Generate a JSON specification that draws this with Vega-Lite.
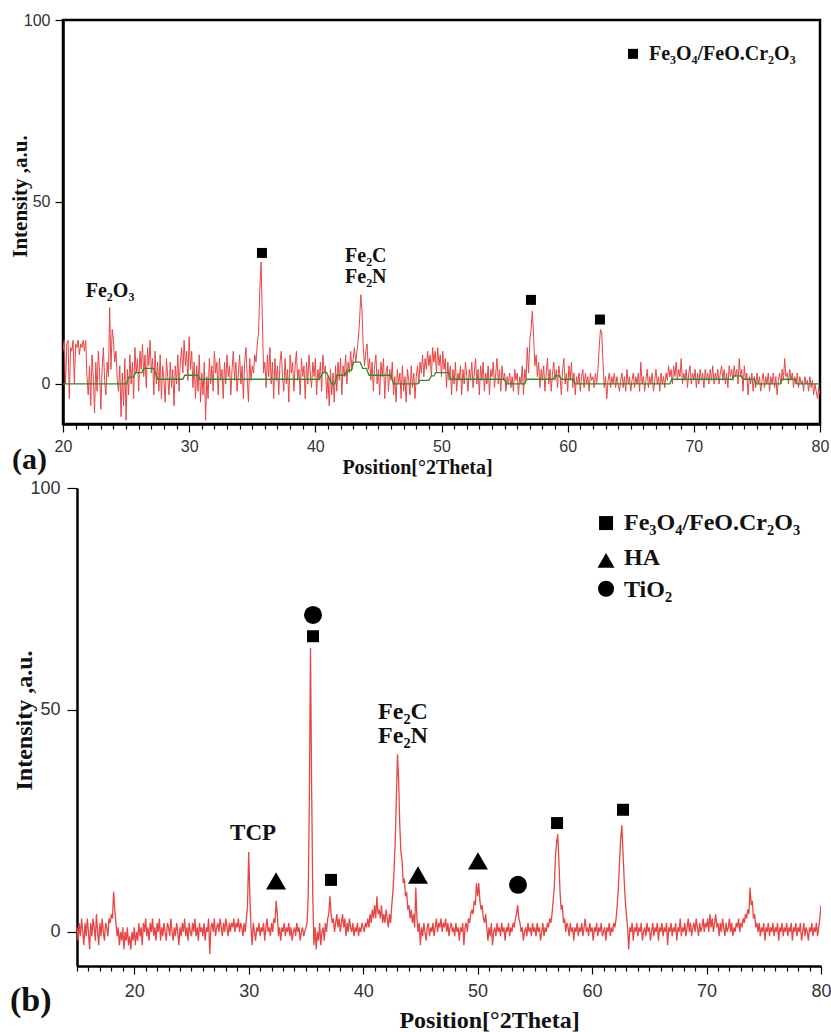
{
"$schema": "https://vega.github.io/schema/vega-lite/v6.json",
"background": "white",
"padding": {"left": 7, "top": 10, "right": 5, "bottom": 2},
"spacing": 0,
"config": {"font": "Liberation Sans"},
"datasets": {
"a": [
{"x":20.0,"y":9},{"x":20.1,"y":12},{"x":20.2,"y":0},{"x":20.3,"y":11},{"x":20.4,"y":12},{"x":20.5,"y":-4},{"x":20.6,"y":10},{"x":20.7,"y":9},{"x":20.8,"y":12},{"x":20.9,"y":0},
{"x":21.0,"y":11},{"x":21.1,"y":10},{"x":21.2,"y":12},{"x":21.3,"y":8},{"x":21.4,"y":11},{"x":21.5,"y":10},{"x":21.6,"y":12},{"x":21.7,"y":9},{"x":21.8,"y":12},{"x":21.9,"y":2},
{"x":22.0,"y":-3},{"x":22.1,"y":5},{"x":22.2,"y":-6},{"x":22.3,"y":8},{"x":22.4,"y":2},{"x":22.5,"y":-8},{"x":22.6,"y":6},{"x":22.7,"y":-2},{"x":22.8,"y":9},{"x":22.9,"y":3},
{"x":23.0,"y":-7},{"x":23.1,"y":4},{"x":23.2,"y":10},{"x":23.3,"y":1},{"x":23.4,"y":-3},{"x":23.5,"y":6},{"x":23.6,"y":2},{"x":23.7,"y":21},{"x":23.8,"y":4},{"x":23.9,"y":15},
{"x":24.0,"y":12},{"x":24.1,"y":6},{"x":24.2,"y":9},{"x":24.3,"y":1},{"x":24.4,"y":-2},{"x":24.5,"y":5},{"x":24.6,"y":-9},{"x":24.7,"y":3},{"x":24.8,"y":-6},{"x":24.9,"y":7},
{"x":25.0,"y":-10},{"x":25.1,"y":4},{"x":25.2,"y":-3},{"x":25.3,"y":8},{"x":25.4,"y":0},{"x":25.5,"y":6},{"x":25.6,"y":-4},{"x":25.7,"y":10},{"x":25.8,"y":3},{"x":25.9,"y":7},
{"x":26.0,"y":-2},{"x":26.1,"y":9},{"x":26.2,"y":4},{"x":26.3,"y":11},{"x":26.4,"y":2},{"x":26.5,"y":8},{"x":26.6,"y":-1},{"x":26.7,"y":10},{"x":26.8,"y":5},{"x":26.9,"y":12},
{"x":27.0,"y":3},{"x":27.1,"y":7},{"x":27.2,"y":-3},{"x":27.3,"y":9},{"x":27.4,"y":0},{"x":27.5,"y":6},{"x":27.6,"y":-2},{"x":27.7,"y":8},{"x":27.8,"y":-4},{"x":27.9,"y":5},
{"x":28.0,"y":1},{"x":28.1,"y":-5},{"x":28.2,"y":7},{"x":28.3,"y":2},{"x":28.4,"y":-3},{"x":28.5,"y":6},{"x":28.6,"y":-1},{"x":28.7,"y":4},{"x":28.8,"y":-6},{"x":28.9,"y":5},
{"x":29.0,"y":0},{"x":29.1,"y":8},{"x":29.2,"y":-2},{"x":29.3,"y":6},{"x":29.4,"y":10},{"x":29.5,"y":3},{"x":29.6,"y":12},{"x":29.7,"y":5},{"x":29.8,"y":9},{"x":29.9,"y":1},
{"x":30.0,"y":13},{"x":30.1,"y":4},{"x":30.2,"y":9},{"x":30.3,"y":-1},{"x":30.4,"y":6},{"x":30.5,"y":-4},{"x":30.6,"y":5},{"x":30.7,"y":-2},{"x":30.8,"y":8},{"x":30.9,"y":-5},
{"x":31.0,"y":3},{"x":31.1,"y":-3},{"x":31.2,"y":6},{"x":31.3,"y":-10},{"x":31.4,"y":2},{"x":31.5,"y":-4},{"x":31.6,"y":7},{"x":31.7,"y":0},{"x":31.8,"y":5},{"x":31.9,"y":-2},
{"x":32.0,"y":9},{"x":32.1,"y":3},{"x":32.2,"y":6},{"x":32.3,"y":-3},{"x":32.4,"y":7},{"x":32.5,"y":1},{"x":32.6,"y":4},{"x":32.7,"y":-4},{"x":32.8,"y":6},{"x":32.9,"y":0},
{"x":33.0,"y":8},{"x":33.1,"y":2},{"x":33.2,"y":5},{"x":33.3,"y":-3},{"x":33.4,"y":4},{"x":33.5,"y":9},{"x":33.6,"y":1},{"x":33.7,"y":6},{"x":33.8,"y":-2},{"x":33.9,"y":3},
{"x":34.0,"y":8},{"x":34.1,"y":0},{"x":34.2,"y":5},{"x":34.3,"y":-4},{"x":34.4,"y":6},{"x":34.5,"y":10},{"x":34.6,"y":2},{"x":34.7,"y":-5},{"x":34.8,"y":7},{"x":34.9,"y":1},
{"x":35.0,"y":5},{"x":35.1,"y":3},{"x":35.2,"y":8},{"x":35.3,"y":6},{"x":35.4,"y":11},{"x":35.5,"y":14},{"x":35.6,"y":26},{"x":35.7,"y":33.5},{"x":35.8,"y":18},{"x":35.9,"y":3},
{"x":36.0,"y":6},{"x":36.1,"y":-1},{"x":36.2,"y":8},{"x":36.3,"y":2},{"x":36.4,"y":10},{"x":36.5,"y":0},{"x":36.6,"y":6},{"x":36.7,"y":-4},{"x":36.8,"y":7},{"x":36.9,"y":1},
{"x":37.0,"y":5},{"x":37.1,"y":-3},{"x":37.2,"y":6},{"x":37.3,"y":9},{"x":37.4,"y":2},{"x":37.5,"y":-2},{"x":37.6,"y":7},{"x":37.7,"y":0},{"x":37.8,"y":4},{"x":37.9,"y":-5},
{"x":38.0,"y":8},{"x":38.1,"y":3},{"x":38.2,"y":6},{"x":38.3,"y":-2},{"x":38.4,"y":5},{"x":38.5,"y":9},{"x":38.6,"y":1},{"x":38.7,"y":4},{"x":38.8,"y":-3},{"x":38.9,"y":7},
{"x":39.0,"y":2},{"x":39.1,"y":5},{"x":39.2,"y":-4},{"x":39.3,"y":6},{"x":39.4,"y":0},{"x":39.5,"y":8},{"x":39.6,"y":3},{"x":39.7,"y":-1},{"x":39.8,"y":6},{"x":39.9,"y":2},
{"x":40.0,"y":7},{"x":40.1,"y":-3},{"x":40.2,"y":4},{"x":40.3,"y":1},{"x":40.4,"y":6},{"x":40.5,"y":-2},{"x":40.6,"y":8},{"x":40.7,"y":3},{"x":40.8,"y":5},{"x":40.9,"y":-4},
{"x":41.0,"y":2},{"x":41.1,"y":-6},{"x":41.2,"y":4},{"x":41.3,"y":-3},{"x":41.4,"y":3},{"x":41.5,"y":-5},{"x":41.6,"y":5},{"x":41.7,"y":-2},{"x":41.8,"y":6},{"x":41.9,"y":1},
{"x":42.0,"y":7},{"x":42.1,"y":-3},{"x":42.2,"y":5},{"x":42.3,"y":2},{"x":42.4,"y":8},{"x":42.5,"y":0},{"x":42.6,"y":6},{"x":42.7,"y":3},{"x":42.8,"y":9},{"x":42.9,"y":4},
{"x":43.0,"y":7},{"x":43.1,"y":10},{"x":43.2,"y":6},{"x":43.3,"y":9},{"x":43.4,"y":12},{"x":43.5,"y":17},{"x":43.6,"y":24.5},{"x":43.7,"y":20},{"x":43.8,"y":10},{"x":43.9,"y":5},
{"x":44.0,"y":9},{"x":44.1,"y":11},{"x":44.2,"y":4},{"x":44.3,"y":7},{"x":44.4,"y":1},{"x":44.5,"y":6},{"x":44.6,"y":-2},{"x":44.7,"y":5},{"x":44.8,"y":8},{"x":44.9,"y":0},
{"x":45.0,"y":4},{"x":45.1,"y":-3},{"x":45.2,"y":6},{"x":45.3,"y":2},{"x":45.4,"y":7},{"x":45.5,"y":-4},{"x":45.6,"y":3},{"x":45.7,"y":5},{"x":45.8,"y":-2},{"x":45.9,"y":4},
{"x":46.0,"y":1},{"x":46.1,"y":6},{"x":46.2,"y":-3},{"x":46.3,"y":2},{"x":46.4,"y":-5},{"x":46.5,"y":4},{"x":46.6,"y":0},{"x":46.7,"y":3},{"x":46.8,"y":-4},{"x":46.9,"y":5},
{"x":47.0,"y":-2},{"x":47.1,"y":2},{"x":47.2,"y":-5},{"x":47.3,"y":4},{"x":47.4,"y":1},{"x":47.5,"y":-3},{"x":47.6,"y":5},{"x":47.7,"y":-1},{"x":47.8,"y":3},{"x":47.9,"y":-4},
{"x":48.0,"y":2},{"x":48.1,"y":5},{"x":48.2,"y":0},{"x":48.3,"y":6},{"x":48.4,"y":3},{"x":48.5,"y":8},{"x":48.6,"y":2},{"x":48.7,"y":7},{"x":48.8,"y":4},{"x":48.9,"y":9},
{"x":49.0,"y":5},{"x":49.1,"y":8},{"x":49.2,"y":2},{"x":49.3,"y":10},{"x":49.4,"y":6},{"x":49.5,"y":9},{"x":49.6,"y":3},{"x":49.7,"y":10},{"x":49.8,"y":5},{"x":49.9,"y":8},
{"x":50.0,"y":2},{"x":50.1,"y":9},{"x":50.2,"y":4},{"x":50.3,"y":7},{"x":50.4,"y":-1},{"x":50.5,"y":6},{"x":50.6,"y":1},{"x":50.7,"y":5},{"x":50.8,"y":-3},{"x":50.9,"y":4},
{"x":51.0,"y":0},{"x":51.1,"y":6},{"x":51.2,"y":-2},{"x":51.3,"y":3},{"x":51.4,"y":1},{"x":51.5,"y":5},{"x":51.6,"y":-3},{"x":51.7,"y":4},{"x":51.8,"y":0},{"x":51.9,"y":6},
{"x":52.0,"y":2},{"x":52.1,"y":-2},{"x":52.2,"y":4},{"x":52.3,"y":1},{"x":52.4,"y":6},{"x":52.5,"y":-1},{"x":52.6,"y":3},{"x":52.7,"y":7},{"x":52.8,"y":0},{"x":52.9,"y":4},
{"x":53.0,"y":-3},{"x":53.1,"y":5},{"x":53.2,"y":1},{"x":53.3,"y":6},{"x":53.4,"y":-2},{"x":53.5,"y":3},{"x":53.6,"y":0},{"x":53.7,"y":5},{"x":53.8,"y":-3},{"x":53.9,"y":4},
{"x":54.0,"y":2},{"x":54.1,"y":6},{"x":54.2,"y":-1},{"x":54.3,"y":3},{"x":54.4,"y":7},{"x":54.5,"y":0},{"x":54.6,"y":4},{"x":54.7,"y":-2},{"x":54.8,"y":5},{"x":54.9,"y":1},
{"x":55.0,"y":3},{"x":55.1,"y":-2},{"x":55.2,"y":2},{"x":55.3,"y":0},{"x":55.4,"y":3},{"x":55.5,"y":-1},{"x":55.6,"y":2},{"x":55.7,"y":-2},{"x":55.8,"y":4},{"x":55.9,"y":1},
{"x":56.0,"y":3},{"x":56.1,"y":-3},{"x":56.2,"y":2},{"x":56.3,"y":0},{"x":56.4,"y":5},{"x":56.5,"y":-3},{"x":56.6,"y":4},{"x":56.7,"y":1},{"x":56.8,"y":10},{"x":56.9,"y":3},
{"x":57.0,"y":12},{"x":57.1,"y":15},{"x":57.2,"y":20},{"x":57.3,"y":13},{"x":57.4,"y":5},{"x":57.5,"y":8},{"x":57.6,"y":2},{"x":57.7,"y":6},{"x":57.8,"y":-1},{"x":57.9,"y":4},
{"x":58.0,"y":1},{"x":58.1,"y":5},{"x":58.2,"y":-2},{"x":58.3,"y":3},{"x":58.4,"y":7},{"x":58.5,"y":0},{"x":58.6,"y":4},{"x":58.7,"y":-2},{"x":58.8,"y":3},{"x":58.9,"y":6},
{"x":59.0,"y":1},{"x":59.1,"y":4},{"x":59.2,"y":-1},{"x":59.3,"y":5},{"x":59.4,"y":2},{"x":59.5,"y":-3},{"x":59.6,"y":4},{"x":59.7,"y":7},{"x":59.8,"y":0},{"x":59.9,"y":3},
{"x":60.0,"y":-2},{"x":60.1,"y":5},{"x":60.2,"y":1},{"x":60.3,"y":6},{"x":60.4,"y":-1},{"x":60.5,"y":3},{"x":60.6,"y":-3},{"x":60.7,"y":2},{"x":60.8,"y":0},{"x":60.9,"y":3},
{"x":61.0,"y":-2},{"x":61.1,"y":2},{"x":61.2,"y":4},{"x":61.3,"y":-1},{"x":61.4,"y":3},{"x":61.5,"y":0},{"x":61.6,"y":2},{"x":61.7,"y":-2},{"x":61.8,"y":3},{"x":61.9,"y":1},
{"x":62.0,"y":2},{"x":62.1,"y":-1},{"x":62.2,"y":3},{"x":62.3,"y":0},{"x":62.4,"y":4},{"x":62.5,"y":10},{"x":62.6,"y":15},{"x":62.7,"y":14},{"x":62.8,"y":6},{"x":62.9,"y":-1},
{"x":63.0,"y":2},{"x":63.1,"y":-4},{"x":63.2,"y":1},{"x":63.3,"y":3},{"x":63.4,"y":-1},{"x":63.5,"y":2},{"x":63.6,"y":0},{"x":63.7,"y":3},{"x":63.8,"y":-1},{"x":63.9,"y":2},
{"x":64.0,"y":0},{"x":64.1,"y":-2},{"x":64.2,"y":1},{"x":64.3,"y":3},{"x":64.4,"y":-1},{"x":64.5,"y":2},{"x":64.6,"y":-2},{"x":64.7,"y":4},{"x":64.8,"y":0},{"x":64.9,"y":2},
{"x":65.0,"y":-2},{"x":65.1,"y":1},{"x":65.2,"y":3},{"x":65.3,"y":-1},{"x":65.4,"y":2},{"x":65.5,"y":0},{"x":65.6,"y":3},{"x":65.7,"y":-2},{"x":65.8,"y":6},{"x":65.9,"y":0},
{"x":66.0,"y":2},{"x":66.1,"y":-2},{"x":66.2,"y":1},{"x":66.3,"y":4},{"x":66.4,"y":-1},{"x":66.5,"y":2},{"x":66.6,"y":0},{"x":66.7,"y":3},{"x":66.8,"y":-2},{"x":66.9,"y":1},
{"x":67.0,"y":4},{"x":67.1,"y":0},{"x":67.2,"y":2},{"x":67.3,"y":-2},{"x":67.4,"y":3},{"x":67.5,"y":0},{"x":67.6,"y":2},{"x":67.7,"y":-1},{"x":67.8,"y":3},{"x":67.9,"y":1},
{"x":68.0,"y":5},{"x":68.1,"y":2},{"x":68.2,"y":4},{"x":68.3,"y":0},{"x":68.4,"y":5},{"x":68.5,"y":2},{"x":68.6,"y":6},{"x":68.7,"y":1},{"x":68.8,"y":4},{"x":68.9,"y":2},
{"x":69.0,"y":7},{"x":69.1,"y":0},{"x":69.2,"y":3},{"x":69.3,"y":1},{"x":69.4,"y":4},{"x":69.5,"y":-1},{"x":69.6,"y":3},{"x":69.7,"y":5},{"x":69.8,"y":0},{"x":69.9,"y":3},
{"x":70.0,"y":1},{"x":70.1,"y":4},{"x":70.2,"y":-1},{"x":70.3,"y":3},{"x":70.4,"y":0},{"x":70.5,"y":4},{"x":70.6,"y":1},{"x":70.7,"y":3},{"x":70.8,"y":-1},{"x":70.9,"y":4},
{"x":71.0,"y":1},{"x":71.1,"y":3},{"x":71.2,"y":0},{"x":71.3,"y":4},{"x":71.4,"y":1},{"x":71.5,"y":5},{"x":71.6,"y":0},{"x":71.7,"y":3},{"x":71.8,"y":1},{"x":71.9,"y":4},
{"x":72.0,"y":0},{"x":72.1,"y":3},{"x":72.2,"y":5},{"x":72.3,"y":1},{"x":72.4,"y":4},{"x":72.5,"y":0},{"x":72.6,"y":3},{"x":72.7,"y":-1},{"x":72.8,"y":5},{"x":72.9,"y":2},
{"x":73.0,"y":4},{"x":73.1,"y":1},{"x":73.2,"y":5},{"x":73.3,"y":2},{"x":73.4,"y":4},{"x":73.5,"y":0},{"x":73.6,"y":7},{"x":73.7,"y":2},{"x":73.8,"y":4},{"x":73.9,"y":-2},
{"x":74.0,"y":5},{"x":74.1,"y":1},{"x":74.2,"y":3},{"x":74.3,"y":-3},{"x":74.4,"y":2},{"x":74.5,"y":0},{"x":74.6,"y":3},{"x":74.7,"y":-2},{"x":74.8,"y":2},{"x":74.9,"y":-1},
{"x":75.0,"y":3},{"x":75.1,"y":0},{"x":75.2,"y":2},{"x":75.3,"y":-2},{"x":75.4,"y":1},{"x":75.5,"y":3},{"x":75.6,"y":-1},{"x":75.7,"y":2},{"x":75.8,"y":0},{"x":75.9,"y":3},
{"x":76.0,"y":-2},{"x":76.1,"y":2},{"x":76.2,"y":0},{"x":76.3,"y":3},{"x":76.4,"y":-1},{"x":76.5,"y":2},{"x":76.6,"y":-3},{"x":76.7,"y":1},{"x":76.8,"y":3},{"x":76.9,"y":0},
{"x":77.0,"y":4},{"x":77.1,"y":1},{"x":77.2,"y":7},{"x":77.3,"y":2},{"x":77.4,"y":3},{"x":77.5,"y":0},{"x":77.6,"y":4},{"x":77.7,"y":1},{"x":77.8,"y":3},{"x":77.9,"y":-1},
{"x":78.0,"y":2},{"x":78.1,"y":0},{"x":78.2,"y":3},{"x":78.3,"y":-1},{"x":78.4,"y":2},{"x":78.5,"y":0},{"x":78.6,"y":1},{"x":78.7,"y":-2},{"x":78.8,"y":2},{"x":78.9,"y":0},
{"x":79.0,"y":1},{"x":79.1,"y":-2},{"x":79.2,"y":2},{"x":79.3,"y":-1},{"x":79.4,"y":1},{"x":79.5,"y":-3},{"x":79.6,"y":0},{"x":79.7,"y":-2},{"x":79.8,"y":-4},{"x":79.9,"y":-1},
{"x":80.0,"y":-3}
],
"abg": [
{"x":20,"y":0},{"x":25.05,"y":0},{"x":25.2,"y":1.9},{"x":25.6,"y":1.9},{"x":25.75,"y":3.1},{"x":26.25,"y":3.1},{"x":26.4,"y":4.3},{"x":27.2,"y":4.3},{"x":27.5,"y":1.3},{"x":29.5,"y":1.3},{"x":29.65,"y":2.4},{"x":30.7,"y":2.4},{"x":30.85,"y":1.3},{"x":40.3,"y":1.3},{"x":40.6,"y":3.1},{"x":40.9,"y":3.1},{"x":41.3,"y":0},{"x":41.55,"y":0},{"x":41.7,"y":2.4},{"x":42.35,"y":2.4},{"x":42.5,"y":3.7},{"x":42.85,"y":3.7},{"x":43.05,"y":6},{"x":43.55,"y":6},{"x":43.75,"y":4.3},{"x":44.05,"y":4.3},{"x":44.25,"y":2.4},{"x":46.0,"y":2.4},{"x":46.2,"y":0},{"x":48.1,"y":0},{"x":48.3,"y":1.0},{"x":49.0,"y":1.0},{"x":49.2,"y":2.2},{"x":49.4,"y":2.2},{"x":49.55,"y":3.1},{"x":50.55,"y":3.1},{"x":50.75,"y":1.3},{"x":55.0,"y":1.3},{"x":55.15,"y":0},{"x":56.6,"y":0},{"x":56.75,"y":1.3},{"x":58.85,"y":1.3},{"x":59.0,"y":2.2},{"x":59.35,"y":2.2},{"x":59.5,"y":1.3},{"x":60.4,"y":1.3},{"x":60.6,"y":0},{"x":68.1,"y":0},{"x":68.25,"y":1.3},{"x":73.05,"y":1.3},{"x":73.2,"y":2.2},{"x":73.75,"y":2.2},{"x":73.9,"y":1.3},{"x":74.8,"y":1.3},{"x":74.95,"y":0},{"x":76.85,"y":0},{"x":77.0,"y":1.3},{"x":78.0,"y":1.3},{"x":78.15,"y":0},{"x":80,"y":0}
],
"b": [
{"x":15.0,"y":1},{"x":15.1,"y":-2},{"x":15.2,"y":2},{"x":15.3,"y":-1},{"x":15.4,"y":3},{"x":15.5,"y":0},{"x":15.6,"y":-3},{"x":15.7,"y":2},{"x":15.8,"y":-1},{"x":15.9,"y":3},
{"x":16.0,"y":0},{"x":16.1,"y":-4},{"x":16.2,"y":2},{"x":16.3,"y":-1},{"x":16.4,"y":3},{"x":16.5,"y":1},{"x":16.6,"y":-2},{"x":16.7,"y":4},{"x":16.8,"y":0},{"x":16.9,"y":-3},
{"x":17.0,"y":2},{"x":17.1,"y":-1},{"x":17.2,"y":3},{"x":17.3,"y":0},{"x":17.4,"y":-2},{"x":17.5,"y":2},{"x":17.6,"y":1},{"x":17.7,"y":-1},{"x":17.8,"y":3},{"x":17.9,"y":2},
{"x":18.0,"y":4},{"x":18.1,"y":3},{"x":18.2,"y":9},{"x":18.3,"y":5},{"x":18.4,"y":2},{"x":18.5,"y":-1},{"x":18.6,"y":1},{"x":18.7,"y":-3},{"x":18.8,"y":0},{"x":18.9,"y":-2},
{"x":19.0,"y":1},{"x":19.1,"y":-4},{"x":19.2,"y":0},{"x":19.3,"y":-2},{"x":19.4,"y":1},{"x":19.5,"y":-3},{"x":19.6,"y":-1},{"x":19.7,"y":-4},{"x":19.8,"y":0},{"x":19.9,"y":-2},
{"x":20.0,"y":1},{"x":20.1,"y":-3},{"x":20.2,"y":0},{"x":20.3,"y":-2},{"x":20.4,"y":2},{"x":20.5,"y":-1},{"x":20.6,"y":1},{"x":20.7,"y":-3},{"x":20.8,"y":2},{"x":20.9,"y":0},
{"x":21.0,"y":3},{"x":21.1,"y":-1},{"x":21.2,"y":1},{"x":21.3,"y":-2},{"x":21.4,"y":2},{"x":21.5,"y":0},{"x":21.6,"y":3},{"x":21.7,"y":-1},{"x":21.8,"y":1},{"x":21.9,"y":-2},
{"x":22.0,"y":2},{"x":22.1,"y":0},{"x":22.2,"y":3},{"x":22.3,"y":-2},{"x":22.4,"y":1},{"x":22.5,"y":-1},{"x":22.6,"y":2},{"x":22.7,"y":0},{"x":22.8,"y":-2},{"x":22.9,"y":2},
{"x":23.0,"y":1},{"x":23.1,"y":-1},{"x":23.2,"y":3},{"x":23.3,"y":0},{"x":23.4,"y":-2},{"x":23.5,"y":1},{"x":23.6,"y":-1},{"x":23.7,"y":2},{"x":23.8,"y":0},{"x":23.9,"y":-3},
{"x":24.0,"y":1},{"x":24.1,"y":-1},{"x":24.2,"y":2},{"x":24.3,"y":0},{"x":24.4,"y":3},{"x":24.5,"y":-1},{"x":24.6,"y":1},{"x":24.7,"y":-2},{"x":24.8,"y":2},{"x":24.9,"y":0},
{"x":25.0,"y":-1},{"x":25.1,"y":2},{"x":25.2,"y":0},{"x":25.3,"y":3},{"x":25.4,"y":-1},{"x":25.5,"y":1},{"x":25.6,"y":-2},{"x":25.7,"y":2},{"x":25.8,"y":0},{"x":25.9,"y":1},
{"x":26.0,"y":-1},{"x":26.1,"y":2},{"x":26.2,"y":-2},{"x":26.3,"y":1},{"x":26.4,"y":0},{"x":26.5,"y":3},{"x":26.6,"y":-5},{"x":26.7,"y":1},{"x":26.8,"y":2},{"x":26.9,"y":0},
{"x":27.0,"y":3},{"x":27.1,"y":-1},{"x":27.2,"y":1},{"x":27.3,"y":2},{"x":27.4,"y":0},{"x":27.5,"y":3},{"x":27.6,"y":1},{"x":27.7,"y":-1},{"x":27.8,"y":2},{"x":27.9,"y":0},
{"x":28.0,"y":3},{"x":28.1,"y":1},{"x":28.2,"y":-1},{"x":28.3,"y":2},{"x":28.4,"y":0},{"x":28.5,"y":2},{"x":28.6,"y":1},{"x":28.7,"y":3},{"x":28.8,"y":0},{"x":28.9,"y":2},
{"x":29.0,"y":1},{"x":29.1,"y":3},{"x":29.2,"y":0},{"x":29.3,"y":2},{"x":29.4,"y":1},{"x":29.5,"y":-1},{"x":29.6,"y":2},{"x":29.7,"y":0},{"x":29.8,"y":3},{"x":29.9,"y":6},
{"x":30.0,"y":18},{"x":30.1,"y":8},{"x":30.2,"y":1},{"x":30.3,"y":-3},{"x":30.4,"y":2},{"x":30.5,"y":0},{"x":30.6,"y":-2},{"x":30.7,"y":1},{"x":30.8,"y":0},{"x":30.9,"y":2},
{"x":31.0,"y":-1},{"x":31.1,"y":1},{"x":31.2,"y":0},{"x":31.3,"y":2},{"x":31.4,"y":-2},{"x":31.5,"y":1},{"x":31.6,"y":3},{"x":31.7,"y":0},{"x":31.8,"y":1},{"x":31.9,"y":-1},
{"x":32.0,"y":2},{"x":32.1,"y":0},{"x":32.2,"y":3},{"x":32.3,"y":2},{"x":32.4,"y":7},{"x":32.5,"y":4},{"x":32.6,"y":-1},{"x":32.7,"y":1},{"x":32.8,"y":-2},{"x":32.9,"y":1},
{"x":33.0,"y":0},{"x":33.1,"y":2},{"x":33.2,"y":-1},{"x":33.3,"y":1},{"x":33.4,"y":0},{"x":33.5,"y":2},{"x":33.6,"y":-1},{"x":33.7,"y":1},{"x":33.8,"y":-2},{"x":33.9,"y":0},
{"x":34.0,"y":1},{"x":34.1,"y":-1},{"x":34.2,"y":2},{"x":34.3,"y":0},{"x":34.4,"y":1},{"x":34.5,"y":-2},{"x":34.6,"y":0},{"x":34.7,"y":1},{"x":34.8,"y":-1},{"x":34.9,"y":0},
{"x":35.0,"y":1},{"x":35.1,"y":2},{"x":35.2,"y":8},{"x":35.3,"y":30},{"x":35.4,"y":64},{"x":35.5,"y":32},{"x":35.6,"y":8},{"x":35.7,"y":-3},{"x":35.8,"y":1},{"x":35.9,"y":-4},
{"x":36.0,"y":0},{"x":36.1,"y":-2},{"x":36.2,"y":2},{"x":36.3,"y":-3},{"x":36.4,"y":0},{"x":36.5,"y":1},{"x":36.6,"y":-2},{"x":36.7,"y":2},{"x":36.8,"y":0},{"x":36.9,"y":3},
{"x":37.0,"y":4},{"x":37.1,"y":8},{"x":37.2,"y":4},{"x":37.3,"y":2},{"x":37.4,"y":3},{"x":37.5,"y":0},{"x":37.6,"y":2},{"x":37.7,"y":4},{"x":37.8,"y":1},{"x":37.9,"y":3},
{"x":38.0,"y":0},{"x":38.1,"y":2},{"x":38.2,"y":4},{"x":38.3,"y":1},{"x":38.4,"y":3},{"x":38.5,"y":-1},{"x":38.6,"y":2},{"x":38.7,"y":0},{"x":38.8,"y":3},{"x":38.9,"y":1},
{"x":39.0,"y":0},{"x":39.1,"y":2},{"x":39.2,"y":-1},{"x":39.3,"y":1},{"x":39.4,"y":0},{"x":39.5,"y":2},{"x":39.6,"y":-1},{"x":39.7,"y":1},{"x":39.8,"y":0},{"x":39.9,"y":2},
{"x":40.0,"y":1},{"x":40.1,"y":0},{"x":40.2,"y":2},{"x":40.3,"y":1},{"x":40.4,"y":3},{"x":40.5,"y":1},{"x":40.6,"y":4},{"x":40.7,"y":2},{"x":40.8,"y":5},{"x":40.9,"y":3},
{"x":41.0,"y":6},{"x":41.1,"y":3},{"x":41.2,"y":8},{"x":41.3,"y":4},{"x":41.4,"y":5},{"x":41.5,"y":3},{"x":41.6,"y":6},{"x":41.7,"y":2},{"x":41.8,"y":4},{"x":41.9,"y":2},
{"x":42.0,"y":5},{"x":42.1,"y":3},{"x":42.2,"y":1},{"x":42.3,"y":4},{"x":42.4,"y":2},{"x":42.5,"y":6},{"x":42.6,"y":9},{"x":42.7,"y":14},{"x":42.8,"y":20},{"x":42.9,"y":30},
{"x":43.0,"y":40},{"x":43.1,"y":34},{"x":43.2,"y":24},{"x":43.3,"y":18},{"x":43.4,"y":16},{"x":43.5,"y":11},{"x":43.6,"y":12},{"x":43.7,"y":8},{"x":43.8,"y":9},{"x":43.9,"y":5},
{"x":44.0,"y":6},{"x":44.1,"y":3},{"x":44.2,"y":5},{"x":44.3,"y":2},{"x":44.4,"y":4},{"x":44.5,"y":1},{"x":44.6,"y":10},{"x":44.7,"y":3},{"x":44.8,"y":0},{"x":44.9,"y":2},
{"x":45.0,"y":-3},{"x":45.1,"y":1},{"x":45.2,"y":-1},{"x":45.3,"y":2},{"x":45.4,"y":0},{"x":45.5,"y":-2},{"x":45.6,"y":1},{"x":45.7,"y":2},{"x":45.8,"y":-1},{"x":45.9,"y":1},
{"x":46.0,"y":0},{"x":46.1,"y":2},{"x":46.2,"y":-1},{"x":46.3,"y":1},{"x":46.4,"y":3},{"x":46.5,"y":0},{"x":46.6,"y":2},{"x":46.7,"y":1},{"x":46.8,"y":3},{"x":46.9,"y":0},
{"x":47.0,"y":2},{"x":47.1,"y":1},{"x":47.2,"y":3},{"x":47.3,"y":0},{"x":47.4,"y":2},{"x":47.5,"y":-1},{"x":47.6,"y":1},{"x":47.7,"y":2},{"x":47.8,"y":0},{"x":47.9,"y":1},
{"x":48.0,"y":-1},{"x":48.1,"y":2},{"x":48.2,"y":0},{"x":48.3,"y":1},{"x":48.4,"y":-2},{"x":48.5,"y":1},{"x":48.6,"y":0},{"x":48.7,"y":2},{"x":48.8,"y":-3},{"x":48.9,"y":1},
{"x":49.0,"y":2},{"x":49.1,"y":0},{"x":49.2,"y":3},{"x":49.3,"y":2},{"x":49.4,"y":4},{"x":49.5,"y":5},{"x":49.6,"y":4},{"x":49.7,"y":7},{"x":49.8,"y":6},{"x":49.9,"y":11},
{"x":50.0,"y":8},{"x":50.1,"y":11},{"x":50.2,"y":7},{"x":50.3,"y":5},{"x":50.4,"y":6},{"x":50.5,"y":3},{"x":50.6,"y":2},{"x":50.7,"y":4},{"x":50.8,"y":1},{"x":50.9,"y":-2},
{"x":51.0,"y":1},{"x":51.1,"y":-1},{"x":51.2,"y":2},{"x":51.3,"y":-3},{"x":51.4,"y":0},{"x":51.5,"y":1},{"x":51.6,"y":-1},{"x":51.7,"y":2},{"x":51.8,"y":0},{"x":51.9,"y":1},
{"x":52.0,"y":-1},{"x":52.1,"y":2},{"x":52.2,"y":0},{"x":52.3,"y":1},{"x":52.4,"y":-2},{"x":52.5,"y":1},{"x":52.6,"y":0},{"x":52.7,"y":2},{"x":52.8,"y":-1},{"x":52.9,"y":1},
{"x":53.0,"y":0},{"x":53.1,"y":2},{"x":53.2,"y":1},{"x":53.3,"y":3},{"x":53.4,"y":4},{"x":53.5,"y":6},{"x":53.6,"y":3},{"x":53.7,"y":2},{"x":53.8,"y":0},{"x":53.9,"y":1},
{"x":54.0,"y":-2},{"x":54.1,"y":0},{"x":54.2,"y":1},{"x":54.3,"y":-1},{"x":54.4,"y":2},{"x":54.5,"y":0},{"x":54.6,"y":1},{"x":54.7,"y":-1},{"x":54.8,"y":2},{"x":54.9,"y":0},
{"x":55.0,"y":1},{"x":55.1,"y":-1},{"x":55.2,"y":2},{"x":55.3,"y":0},{"x":55.4,"y":1},{"x":55.5,"y":-2},{"x":55.6,"y":0},{"x":55.7,"y":2},{"x":55.8,"y":-1},{"x":55.9,"y":1},
{"x":56.0,"y":0},{"x":56.1,"y":2},{"x":56.2,"y":1},{"x":56.3,"y":3},{"x":56.4,"y":2},{"x":56.5,"y":4},{"x":56.6,"y":7},{"x":56.7,"y":10},{"x":56.8,"y":17},{"x":56.9,"y":20},
{"x":57.0,"y":22},{"x":57.1,"y":16},{"x":57.2,"y":9},{"x":57.3,"y":5},{"x":57.4,"y":6},{"x":57.5,"y":2},{"x":57.6,"y":3},{"x":57.7,"y":0},{"x":57.8,"y":2},{"x":57.9,"y":1},
{"x":58.0,"y":-1},{"x":58.1,"y":2},{"x":58.2,"y":0},{"x":58.3,"y":1},{"x":58.4,"y":-2},{"x":58.5,"y":1},{"x":58.6,"y":0},{"x":58.7,"y":2},{"x":58.8,"y":-1},{"x":58.9,"y":1},
{"x":59.0,"y":0},{"x":59.1,"y":2},{"x":59.2,"y":-1},{"x":59.3,"y":1},{"x":59.4,"y":3},{"x":59.5,"y":0},{"x":59.6,"y":1},{"x":59.7,"y":-1},{"x":59.8,"y":2},{"x":59.9,"y":0},
{"x":60.0,"y":1},{"x":60.1,"y":-2},{"x":60.2,"y":1},{"x":60.3,"y":0},{"x":60.4,"y":2},{"x":60.5,"y":-1},{"x":60.6,"y":1},{"x":60.7,"y":0},{"x":60.8,"y":2},{"x":60.9,"y":-1},
{"x":61.0,"y":0},{"x":61.1,"y":1},{"x":61.2,"y":-2},{"x":61.3,"y":1},{"x":61.4,"y":0},{"x":61.5,"y":2},{"x":61.6,"y":-1},{"x":61.7,"y":1},{"x":61.8,"y":0},{"x":61.9,"y":2},
{"x":62.0,"y":1},{"x":62.1,"y":3},{"x":62.2,"y":6},{"x":62.3,"y":10},{"x":62.4,"y":16},{"x":62.5,"y":21},{"x":62.6,"y":24},{"x":62.7,"y":18},{"x":62.8,"y":12},{"x":62.9,"y":7},
{"x":63.0,"y":4},{"x":63.1,"y":1},{"x":63.2,"y":-4},{"x":63.3,"y":1},{"x":63.4,"y":0},{"x":63.5,"y":2},{"x":63.6,"y":-2},{"x":63.7,"y":1},{"x":63.8,"y":0},{"x":63.9,"y":2},
{"x":64.0,"y":-1},{"x":64.1,"y":1},{"x":64.2,"y":0},{"x":64.3,"y":2},{"x":64.4,"y":-2},{"x":64.5,"y":0},{"x":64.6,"y":1},{"x":64.7,"y":-1},{"x":64.8,"y":2},{"x":64.9,"y":0},
{"x":65.0,"y":1},{"x":65.1,"y":-2},{"x":65.2,"y":0},{"x":65.3,"y":2},{"x":65.4,"y":-1},{"x":65.5,"y":1},{"x":65.6,"y":0},{"x":65.7,"y":2},{"x":65.8,"y":-2},{"x":65.9,"y":1},
{"x":66.0,"y":0},{"x":66.1,"y":2},{"x":66.2,"y":-1},{"x":66.3,"y":1},{"x":66.4,"y":0},{"x":66.5,"y":2},{"x":66.6,"y":-3},{"x":66.7,"y":1},{"x":66.8,"y":0},{"x":66.9,"y":2},
{"x":67.0,"y":-1},{"x":67.1,"y":1},{"x":67.2,"y":0},{"x":67.3,"y":2},{"x":67.4,"y":-2},{"x":67.5,"y":1},{"x":67.6,"y":0},{"x":67.7,"y":3},{"x":67.8,"y":-1},{"x":67.9,"y":1},
{"x":68.0,"y":0},{"x":68.1,"y":2},{"x":68.2,"y":-1},{"x":68.3,"y":1},{"x":68.4,"y":3},{"x":68.5,"y":0},{"x":68.6,"y":2},{"x":68.7,"y":-1},{"x":68.8,"y":1},{"x":68.9,"y":2},
{"x":69.0,"y":0},{"x":69.1,"y":3},{"x":69.2,"y":1},{"x":69.3,"y":-1},{"x":69.4,"y":2},{"x":69.5,"y":0},{"x":69.6,"y":1},{"x":69.7,"y":3},{"x":69.8,"y":0},{"x":69.9,"y":2},
{"x":70.0,"y":1},{"x":70.1,"y":3},{"x":70.2,"y":0},{"x":70.3,"y":4},{"x":70.4,"y":1},{"x":70.5,"y":3},{"x":70.6,"y":0},{"x":70.7,"y":2},{"x":70.8,"y":4},{"x":70.9,"y":1},
{"x":71.0,"y":2},{"x":71.1,"y":-1},{"x":71.2,"y":2},{"x":71.3,"y":0},{"x":71.4,"y":3},{"x":71.5,"y":1},{"x":71.6,"y":-1},{"x":71.7,"y":2},{"x":71.8,"y":0},{"x":71.9,"y":1},
{"x":72.0,"y":3},{"x":72.1,"y":0},{"x":72.2,"y":2},{"x":72.3,"y":-1},{"x":72.4,"y":1},{"x":72.5,"y":0},{"x":72.6,"y":2},{"x":72.7,"y":1},{"x":72.8,"y":3},{"x":72.9,"y":0},
{"x":73.0,"y":2},{"x":73.1,"y":1},{"x":73.2,"y":3},{"x":73.3,"y":2},{"x":73.4,"y":4},{"x":73.5,"y":3},{"x":73.6,"y":5},{"x":73.7,"y":4},{"x":73.8,"y":10},{"x":73.9,"y":6},
{"x":74.0,"y":7},{"x":74.1,"y":3},{"x":74.2,"y":4},{"x":74.3,"y":1},{"x":74.4,"y":2},{"x":74.5,"y":0},{"x":74.6,"y":2},{"x":74.7,"y":-1},{"x":74.8,"y":1},{"x":74.9,"y":0},
{"x":75.0,"y":2},{"x":75.1,"y":-2},{"x":75.2,"y":1},{"x":75.3,"y":0},{"x":75.4,"y":2},{"x":75.5,"y":-1},{"x":75.6,"y":1},{"x":75.7,"y":0},{"x":75.8,"y":2},{"x":75.9,"y":-1},
{"x":76.0,"y":1},{"x":76.1,"y":0},{"x":76.2,"y":2},{"x":76.3,"y":-2},{"x":76.4,"y":1},{"x":76.5,"y":0},{"x":76.6,"y":2},{"x":76.7,"y":-1},{"x":76.8,"y":1},{"x":76.9,"y":0},
{"x":77.0,"y":2},{"x":77.1,"y":-1},{"x":77.2,"y":1},{"x":77.3,"y":0},{"x":77.4,"y":2},{"x":77.5,"y":-2},{"x":77.6,"y":1},{"x":77.7,"y":0},{"x":77.8,"y":2},{"x":77.9,"y":-1},
{"x":78.0,"y":1},{"x":78.1,"y":0},{"x":78.2,"y":2},{"x":78.3,"y":-2},{"x":78.4,"y":0},{"x":78.5,"y":2},{"x":78.6,"y":-1},{"x":78.7,"y":1},{"x":78.8,"y":0},{"x":78.9,"y":-2},
{"x":79.0,"y":1},{"x":79.1,"y":0},{"x":79.2,"y":2},{"x":79.3,"y":-1},{"x":79.4,"y":1},{"x":79.5,"y":0},{"x":79.6,"y":2},{"x":79.7,"y":-1},{"x":79.8,"y":1},{"x":79.9,"y":3},
{"x":80.0,"y":6}
],
"ann_a": [
{"x":23.73,"y":25.5,"label":"Fe₂O₃","role":"peak"},
{"x":44.0,"y":35.2,"label":"Fe₂C","role":"peak"},
{"x":44.0,"y":29.4,"label":"Fe₂N","role":"peak"},
{"x":66.44,"y":90.7,"label":"Fe₃O₄/FeO.Cr₂O₃","role":"legend"},
{"x":15.96,"y":-21,"label":"(a)","role":"panel"}
],
"marks_a": [
{"x":35.77,"y":36.0,"phase":"Fe3O4","role":"peak"},
{"x":57.09,"y":23.1,"phase":"Fe3O4","role":"peak"},
{"x":62.56,"y":17.7,"phase":"Fe3O4","role":"peak"},
{"x":65.18,"y":90.7,"phase":"Fe3O4","role":"legend"}
],
"ann_b": [
{"x":43.48,"y":49.5,"label":"Fe₂C","role":"peak"},
{"x":43.48,"y":44.2,"label":"Fe₂N","role":"peak"},
{"x":30.38,"y":22.3,"label":"TCP","role":"peak"},
{"x":62.79,"y":92.1,"label":"Fe₃O₄/FeO.Cr₂O₃","role":"legend"},
{"x":62.79,"y":84.2,"label":"HA","role":"legend"},
{"x":62.79,"y":77.0,"label":"TiO₂","role":"legend"},
{"x":9.15,"y":-15.5,"label":"(b)","role":"panel"}
],
"marks_b": [
{"x":35.62,"y":66.6,"phase":"Fe3O4","role":"peak"},
{"x":37.19,"y":11.7,"phase":"Fe3O4","role":"peak"},
{"x":56.94,"y":24.5,"phase":"Fe3O4","role":"peak"},
{"x":62.70,"y":27.5,"phase":"Fe3O4","role":"peak"},
{"x":61.22,"y":92.1,"phase":"Fe3O4","role":"legend"},
{"x":35.62,"y":71.4,"phase":"TiO2","role":"peak"},
{"x":53.53,"y":10.6,"phase":"TiO2","role":"peak"},
{"x":61.22,"y":77.3,"phase":"TiO2","role":"legend"},
{"x":32.39,"y":11.5,"phase":"HA","role":"peak"},
{"x":44.79,"y":12.8,"phase":"HA","role":"peak"},
{"x":50.03,"y":16.0,"phase":"HA","role":"peak"},
{"x":61.22,"y":83.7,"phase":"HA","role":"legend"}
]
},
"vconcat": [
{
"width": 757, "height": 404,
"view": {"stroke": "black", "strokeWidth": 2.5},
"resolve": {"axis": {"x": "independent"}},
"layer": [
{"data": {"name": "a"},
 "mark": {"type": "line", "color": "#e84545", "strokeWidth": 1, "clip": true},
 "encoding": {
  "x": {"field": "x", "type": "quantitative", "scale": {"domain": [20, 80], "nice": false, "zero": false},
   "axis": {"orient": "bottom", "values": [20,30,40,50,60,70,80], "labelOverlap": false, "labelFlush": false,
    "tickSize": 8, "tickColor": "black", "tickWidth": 1.2, "domainColor": "black", "domainWidth": 2.5, "grid": false,
    "labelFont": "Liberation Sans", "labelFontSize": 16, "labelColor": "#333", "labelPadding": 6,
    "title": "Position[°2Theta]", "titleFont": "Liberation Serif", "titleFontSize": 20, "titleFontWeight": "bold", "titleColor": "#111",
    "titleX": 354, "titleY": 49, "titleBaseline": "alphabetic", "titleAlign": "center"}},
  "y": {"field": "y", "type": "quantitative", "scale": {"domain": [-11, 100], "nice": false, "zero": false},
   "axis": {"values": [0, 50, 100], "tickSize": 8, "tickColor": "black", "tickWidth": 1.2, "domainColor": "black", "domainWidth": 2.5, "grid": false,
    "labelFont": "Liberation Sans", "labelFontSize": 16, "labelColor": "#333", "labelPadding": 5,
    "title": "Intensity ,a.u.", "titleFont": "Liberation Serif", "titleFontSize": 21, "titleFontWeight": "bold", "titleColor": "#111",
    "titleX": -37, "titleY": 176, "titleBaseline": "alphabetic", "titleAlign": "center", "titleAngle": -90}}
 }},
{"data": {"name": "abg"},
 "mark": {"type": "line", "color": "#2e8b2e", "strokeWidth": 1.3, "clip": true},
 "encoding": {
  "x": {"field": "x", "type": "quantitative",
   "axis": {"orient": "bottom", "values": [21,22,23,24,25,26,27,28,29,31,32,33,34,35,36,37,38,39,41,42,43,44,45,46,47,48,49,51,52,53,54,55,56,57,58,59,61,62,63,64,65,66,67,68,69,71,72,73,74,75,76,77,78,79],
    "labels": false, "domain": false, "grid": false, "title": null, "tickSize": 5, "tickColor": "black", "tickWidth": 1.2}},
  "y": {"field": "y", "type": "quantitative"}}},
{"data": {"name": "ann_a"},
 "transform": [{"filter": "datum.role === 'peak'"}],
 "mark": {"type": "text", "font": "Liberation Serif", "fontWeight": "bold", "fontSize": 20, "color": "#111", "align": "center", "baseline": "middle"},
 "encoding": {"x": {"field": "x", "type": "quantitative", "axis": null}, "y": {"field": "y", "type": "quantitative"}, "text": {"field": "label"}}},
{"data": {"name": "ann_a"},
 "transform": [{"filter": "datum.role === 'legend'"}],
 "mark": {"type": "text", "font": "Liberation Serif", "fontWeight": "bold", "fontSize": 20, "color": "#111", "align": "left", "baseline": "middle"},
 "encoding": {"x": {"field": "x", "type": "quantitative", "axis": null}, "y": {"field": "y", "type": "quantitative"}, "text": {"field": "label"}}},
{"data": {"name": "ann_a"},
 "transform": [{"filter": "datum.role === 'panel'"}],
 "mark": {"type": "text", "font": "Liberation Serif", "fontWeight": "bold", "fontSize": 30, "color": "#111", "align": "left", "baseline": "middle"},
 "encoding": {"x": {"field": "x", "type": "quantitative", "axis": null}, "y": {"field": "y", "type": "quantitative"}, "text": {"field": "label"}}},
{"data": {"name": "marks_a"},
 "mark": {"type": "point", "shape": "square", "filled": true, "color": "black", "opacity": 1, "size": 100},
 "encoding": {"x": {"field": "x", "type": "quantitative", "axis": null}, "y": {"field": "y", "type": "quantitative"}}}
]
},
{
"width": 758, "height": 478,
"view": {"stroke": null},
"resolve": {"axis": {"x": "independent"}},
"layer": [
{"data": {"name": "b"},
 "mark": {"type": "line", "color": "#e84545", "strokeWidth": 1.3, "clip": true},
 "encoding": {
  "x": {"field": "x", "type": "quantitative", "scale": {"domain": [15, 80], "range": [14, 758], "nice": false, "zero": false},
   "axis": {"orient": "bottom", "values": [20,30,40,50,60,70,80], "labelOverlap": false, "labelFlush": false,
    "tickSize": 8, "tickColor": "black", "tickWidth": 1.2, "domainColor": "black", "domainWidth": 2.5, "grid": false,
    "labelFont": "Liberation Sans", "labelFontSize": 18, "labelColor": "#333", "labelPadding": 8,
    "title": "Position[°2Theta]", "titleFont": "Liberation Serif", "titleFontSize": 24, "titleFontWeight": "bold", "titleColor": "#111",
    "titleX": 426, "titleY": 61, "titleBaseline": "alphabetic", "titleAlign": "center"}},
  "y": {"field": "y", "type": "quantitative", "scale": {"domain": [-7.7, 100], "nice": false, "zero": false},
   "axis": {"values": [0, 50, 100], "offset": -14, "tickSize": 10, "tickColor": "black", "tickWidth": 1.2, "domainColor": "black", "domainWidth": 2.5, "grid": false,
    "labelFont": "Liberation Sans", "labelFontSize": 18, "labelColor": "#333", "labelPadding": 7,
    "title": "Intensity ,a.u.", "titleFont": "Liberation Serif", "titleFontSize": 24, "titleFontWeight": "bold", "titleColor": "#111",
    "titleX": -46, "titleY": 232, "titleBaseline": "alphabetic", "titleAlign": "center", "titleAngle": -90}}
 }},
{"mark": {"type": "rule", "color": "black", "strokeWidth": 2.5},
 "encoding": {"x": {"datum": 15, "axis": null}, "x2": {"datum": 80}, "y": {"datum": 100}}},
{"mark": {"type": "rule", "color": "black", "strokeWidth": 2.5},
 "encoding": {"x": {"datum": 80, "axis": null}, "y": {"datum": -7.7}, "y2": {"datum": 100}}},
{"data": {"name": "ann_b"},
 "transform": [{"filter": "datum.role === 'peak' && datum.label !== 'TCP'"}],
 "mark": {"type": "text", "font": "Liberation Serif", "fontWeight": "bold", "fontSize": 24, "color": "#111", "align": "center", "baseline": "middle"},
 "encoding": {"x": {"field": "x", "type": "quantitative", "axis": null}, "y": {"field": "y", "type": "quantitative"}, "text": {"field": "label"}}},
{"data": {"name": "ann_b"},
 "transform": [{"filter": "datum.label === 'TCP'"}],
 "mark": {"type": "text", "font": "Liberation Serif", "fontWeight": "bold", "fontSize": 23, "color": "#111", "align": "center", "baseline": "middle"},
 "encoding": {"x": {"field": "x", "type": "quantitative", "axis": null}, "y": {"field": "y", "type": "quantitative"}, "text": {"field": "label"}}},
{"data": {"name": "ann_b"},
 "transform": [{"filter": "datum.role === 'legend'"}],
 "mark": {"type": "text", "font": "Liberation Serif", "fontWeight": "bold", "fontSize": 24, "color": "#111", "align": "left", "baseline": "middle"},
 "encoding": {"x": {"field": "x", "type": "quantitative", "axis": null}, "y": {"field": "y", "type": "quantitative"}, "text": {"field": "label"}}},
{"data": {"name": "ann_b"},
 "transform": [{"filter": "datum.role === 'panel'"}],
 "mark": {"type": "text", "font": "Liberation Serif", "fontWeight": "bold", "fontSize": 34, "color": "#111", "align": "left", "baseline": "middle"},
 "encoding": {"x": {"field": "x", "type": "quantitative", "axis": null}, "y": {"field": "y", "type": "quantitative"}, "text": {"field": "label"}}},
{"data": {"name": "marks_b"},
 "transform": [{"filter": "datum.phase === 'Fe3O4' && datum.role === 'peak'"}],
 "mark": {"type": "point", "shape": "square", "filled": true, "color": "black", "opacity": 1, "size": 144},
 "encoding": {
  "x": {"field": "x", "type": "quantitative",
   "axis": {"orient": "bottom", "values": [15,16,17,18,19,21,22,23,24,25,26,27,28,29,31,32,33,34,35,36,37,38,39,41,42,43,44,45,46,47,48,49,51,52,53,54,55,56,57,58,59,61,62,63,64,65,66,67,68,69,71,72,73,74,75,76,77,78,79],
    "labels": false, "domain": false, "grid": false, "title": null, "tickSize": 5, "tickColor": "black", "tickWidth": 1.2}},
  "y": {"field": "y", "type": "quantitative"}}},
{"data": {"name": "marks_b"},
 "transform": [{"filter": "datum.phase === 'Fe3O4' && datum.role === 'legend'"}],
 "mark": {"type": "point", "shape": "square", "filled": true, "color": "black", "opacity": 1, "size": 196},
 "encoding": {"x": {"field": "x", "type": "quantitative", "axis": null}, "y": {"field": "y", "type": "quantitative"}}},
{"data": {"name": "marks_b"},
 "transform": [{"filter": "datum.phase === 'TiO2' && datum.role === 'peak'"}],
 "mark": {"type": "point", "shape": "circle", "filled": true, "color": "black", "opacity": 1, "size": 324},
 "encoding": {"x": {"field": "x", "type": "quantitative", "axis": null}, "y": {"field": "y", "type": "quantitative"}}},
{"data": {"name": "marks_b"},
 "transform": [{"filter": "datum.phase === 'TiO2' && datum.role === 'legend'"}],
 "mark": {"type": "point", "shape": "circle", "filled": true, "color": "black", "opacity": 1, "size": 256},
 "encoding": {"x": {"field": "x", "type": "quantitative", "axis": null}, "y": {"field": "y", "type": "quantitative"}}},
{"data": {"name": "marks_b"},
 "transform": [{"filter": "datum.phase === 'HA' && datum.role === 'peak'"}],
 "mark": {"type": "point", "shape": "triangle-up", "filled": true, "color": "black", "opacity": 1, "size": 400},
 "encoding": {"x": {"field": "x", "type": "quantitative", "axis": null}, "y": {"field": "y", "type": "quantitative"}}},
{"data": {"name": "marks_b"},
 "transform": [{"filter": "datum.phase === 'HA' && datum.role === 'legend'"}],
 "mark": {"type": "point", "shape": "triangle-up", "filled": true, "color": "black", "opacity": 1, "size": 289},
 "encoding": {"x": {"field": "x", "type": "quantitative", "axis": null}, "y": {"field": "y", "type": "quantitative"}}}
]
}
]
}
